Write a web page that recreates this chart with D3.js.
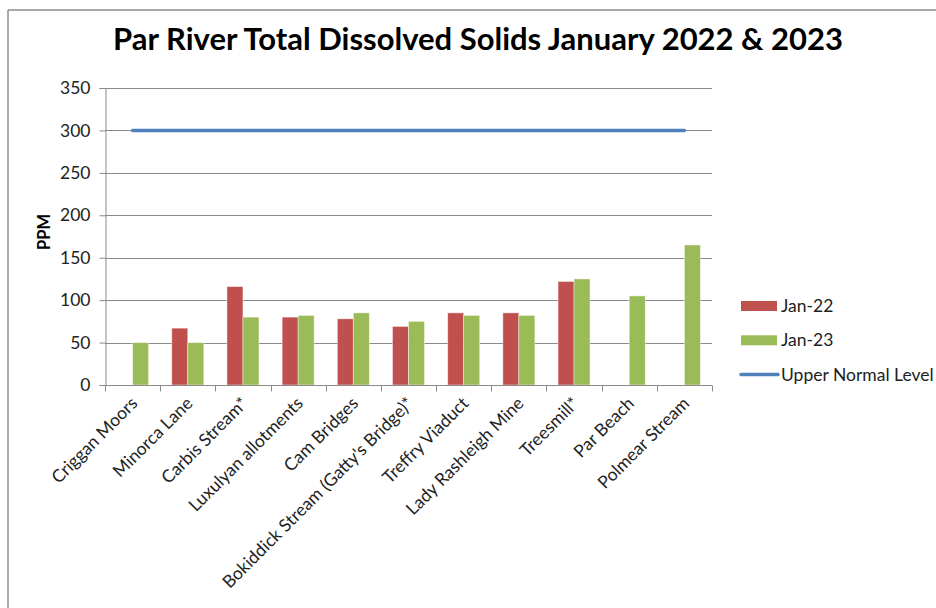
<!DOCTYPE html>
<html>
<head>
<meta charset="utf-8">
<script src="https://cdn.jsdelivr.net/npm/d3@7"></script>
<style>
  html, body { margin: 0; padding: 0; background: #fff; }
  svg { display: block; }
  text { font-family: "Lato", "Open Sans", sans-serif; }
</style>
</head>
<body>
<svg id="chart" width="936" height="608"></svg>
<script>
const categories = ["Criggan Moors", "Minorca Lane", "Carbis Stream*", "Luxulyan allotments", "Cam Bridges",
  "Bokiddick Stream (Gatty's Bridge)*", "Treffry Viaduct", "Lady Rashleigh Mine", "Treesmill*", "Par Beach", "Polmear Stream"];
const seriesNames = ["Jan-22", "Jan-23"];
const jan22 = [null, 67, 116, 80, 78, 69, 85, 85, 122, null, null];
const jan23 = [50, 50, 80, 82, 85, 75, 82, 82, 125, 105, 165];
const upperNormal = [300, 300, 300, 300, 300, 300, 300, 300, 300, 300, 300];
const yTicks = [0, 50, 100, 150, 200, 250, 300, 350];
const lineName = "Upper Normal Level";
const titleText = "Par River Total Dissolved Solids January 2022 & 2023";
const yLabel = "PPM";

const colors = { "Jan-22": "#C0504D", "Jan-23": "#9BBB59", line: "#4F81BD" };

const svg = d3.select("#chart");
const W = 936, H = 608;
const plot = { left: 105, right: 712, top: 88, bottom: 385 };

// outer frame (top and left visible)
svg.append("line").attr("x1", 8).attr("x2", W + 5).attr("y1", 10).attr("y2", 10)
  .attr("stroke", "#8c8c8c").attr("stroke-width", 1.5);
svg.append("line").attr("x1", 8).attr("x2", 8).attr("y1", 10).attr("y2", H + 5)
  .attr("stroke", "#8c8c8c").attr("stroke-width", 1.5);

const y = d3.scaleLinear().domain([0, 350]).range([plot.bottom, plot.top]);
const x0 = d3.scaleBand().domain(categories).range([plot.left, plot.right])
  .paddingInner(0.42).paddingOuter(0.21);
const x1 = d3.scaleBand().domain(seriesNames).range([0, x0.bandwidth()]);
const step = x0.step();
const center = c => x0(c) + x0.bandwidth() / 2;

// gridlines
svg.append("g").selectAll("line").data(yTicks.filter(t => t > 0)).join("line")
  .attr("x1", plot.left).attr("x2", plot.right)
  .attr("y1", d => Math.round(y(d)) + 0.5).attr("y2", d => Math.round(y(d)) + 0.5)
  .attr("stroke", "#8a8a8a").attr("stroke-width", 1);

// y axis
const yAxis = svg.append("g").attr("transform", `translate(${plot.left + 0.5},0)`)
  .call(d3.axisLeft(y).tickValues(yTicks).tickSize(6).tickPadding(9));
yAxis.select(".domain").attr("stroke", "#8a8a8a");
yAxis.selectAll(".tick line").attr("stroke", "#8a8a8a");
yAxis.selectAll(".tick text").attr("font-size", 17.5).attr("fill", "#222")
  .attr("font-family", "Lato, 'Open Sans', sans-serif");

// bars
const barData = [];
categories.forEach((c, i) => {
  [[seriesNames[0], jan22[i]], [seriesNames[1], jan23[i]]].forEach(([s, v]) => {
    if (v != null) barData.push({ c, s, v });
  });
});
svg.append("g").selectAll("rect").data(barData).join("rect")
  .attr("x", d => x0(d.c) + x1(d.s))
  .attr("width", x1.bandwidth())
  .attr("y", d => y(d.v))
  .attr("height", d => y(0) - y(d.v))
  .attr("fill", d => colors[d.s])
  .attr("stroke", "rgba(255,255,255,0.55)").attr("stroke-width", 0.8);

// x axis
const xAxisG = svg.append("g").attr("transform", `translate(0,${plot.bottom + 0.5})`);
xAxisG.append("line").attr("x1", plot.left).attr("x2", plot.right)
  .attr("stroke", "#8a8a8a");
const tickXs = d3.range(categories.length + 1).map(i => plot.left + i * step);
xAxisG.selectAll("line.t").data(tickXs).join("line").attr("class", "t")
  .attr("x1", d => Math.round(d) + 0.5).attr("x2", d => Math.round(d) + 0.5)
  .attr("y1", 0).attr("y2", 6).attr("stroke", "#8a8a8a");
xAxisG.selectAll("text").data(categories).join("text")
  .attr("transform", d => `translate(${center(d) + 6},${19}) rotate(-45)`)
  .attr("text-anchor", "end")
  .attr("font-size", 17.5).attr("fill", "#222")
  .text(d => d);

// upper normal line
const line = d3.line().x((d, i) => center(categories[i])).y(d => y(d));
svg.append("path").datum(upperNormal).attr("d", line)
  .attr("fill", "none").attr("stroke", colors.line).attr("stroke-width", 3.5)
  .attr("stroke-linecap", "round");

// title
const title = svg.append("text").attr("x", 478).attr("y", 50)
  .attr("text-anchor", "middle").attr("font-weight", "bold").attr("font-size", 26)
  .attr("fill", "#000").text(titleText);
const tw = title.node().getComputedTextLength();
title.attr("font-size", 26 * 730 / tw);

// y label
svg.append("text").attr("transform", `translate(50,232) rotate(-90)`)
  .attr("text-anchor", "middle").attr("font-weight", "bold").attr("font-size", 16.5)
  .attr("fill", "#000").text(yLabel);

// legend
const legendItems = [
  { name: seriesNames[0], type: "rect", color: colors["Jan-22"] },
  { name: seriesNames[1], type: "rect", color: colors["Jan-23"] },
  { name: lineName, type: "line", color: colors.line }
];
const lg = svg.append("g").selectAll("g").data(legendItems).join("g")
  .attr("transform", (d, i) => `translate(741,${306 + i * 34.3})`);
lg.filter(d => d.type === "rect").append("rect")
  .attr("x", 0).attr("y", -5).attr("width", 36).attr("height", 10)
  .attr("fill", d => d.color);
lg.filter(d => d.type === "line").append("line")
  .attr("x1", 0).attr("x2", 37).attr("y1", 0).attr("y2", 0)
  .attr("stroke", d => d.color).attr("stroke-width", 3.5).attr("stroke-linecap", "round");
lg.append("text").attr("x", 40).attr("y", 0).attr("dy", "0.35em")
  .attr("font-size", 17.5).attr("fill", "#222").text(d => d.name);
</script>
</body>
</html>
